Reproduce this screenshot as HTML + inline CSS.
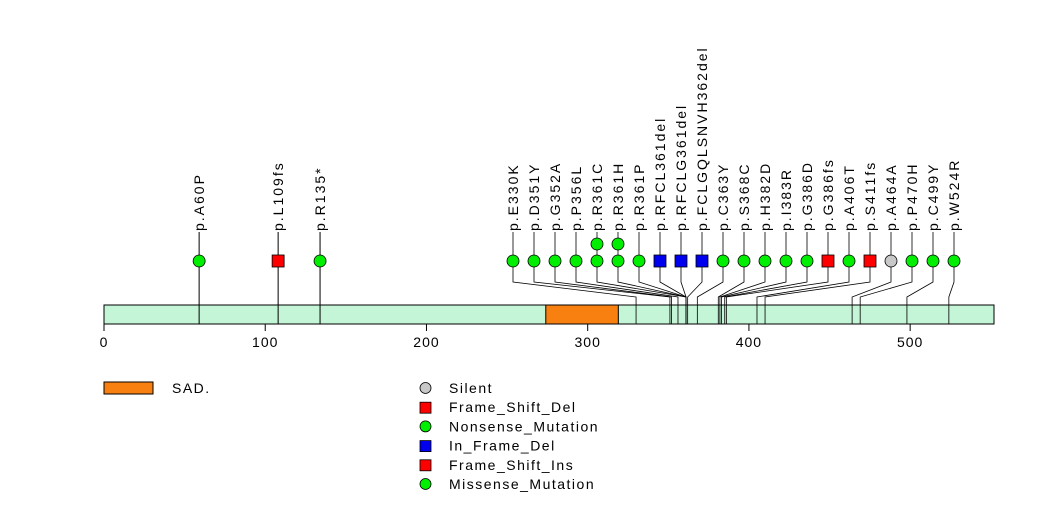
<!DOCTYPE html>
<html><head><meta charset="utf-8"><style>
body{margin:0;background:#fff}
svg text{font-family:"Liberation Sans",sans-serif;font-size:14px;fill:#000}
text.mut{letter-spacing:2px}
text.leg{letter-spacing:1.5px}
text.tick{letter-spacing:1px}
</style></head><body>
<svg id="chart" width="1047" height="524" xmlns="http://www.w3.org/2000/svg">
<rect x="104" y="305" width="890" height="19" fill="#c3f5d6" stroke="#000"/>
<g id="domains"></g>
<g id="axis"></g>
<g id="muts"></g>
<g id="legend"></g>
</svg>
<script>
const proteinLength = 552;
const domainNames = ["SAD."];
const domainStarts = [274];
const domainEnds = [319];
const mutLabels = ["p.A60P","p.L109fs","p.R135*","p.E330K","p.D351Y","p.G352A","p.P356L","p.R361C","p.R361H","p.R361P","p.RFCL361del","p.RFCLG361del","p.FCLGQLSNVH362del","p.C363Y","p.S368C","p.H382D","p.I383R","p.G386D","p.G386fs","p.A406T","p.S411fs","p.A464A","p.P470H","p.C499Y","p.W524R"];
const mutPositions = [59,108,134,330,351,352,356,361,361,361,361,361,362,368,381,382,383,385,386,405,410,464,469,498,524];
const mutCounts = [1,1,1,1,1,1,1,2,2,1,1,1,1,1,1,1,1,1,1,1,1,1,1,1,1];
const mutTypes = ["mis","fsd","mis","mis","mis","mis","mis","mis","mis","mis","ifd","ifd","ifd","mis","mis","mis","mis","mis","fsd","mis","fsd","sil","mis","mis","mis"];
const axisTicks = [0,100,200,300,400,500];
const legendLabels = ["Silent","Frame_Shift_Del","Nonsense_Mutation","In_Frame_Del","Frame_Shift_Ins","Missense_Mutation"];
const legendTypes = ["sil","fsd","mis","ifd","fsd","mis"];

const NS="http://www.w3.org/2000/svg";
const x = v => 104 + v*(890/proteinLength);
const colors = {mis:"#00ee00",fsd:"#ff0000",ifd:"#0000ee",sil:"#c8c8c8"};
function mk(tag, attrs, parent){const e=document.createElementNS(NS,tag);for(const k in attrs)e.setAttribute(k,attrs[k]);parent.appendChild(e);return e;}
function marker(type, cx, cy, parent){
  if(type==="fsd"||type==="ifd") return mk("rect",{x:cx-6,y:cy-6,width:12,height:12,fill:colors[type],stroke:"#000","stroke-width":0.8},parent);
  return mk("circle",{cx:cx,cy:cy,r:6,fill:colors[type],stroke:"#000","stroke-width":0.8},parent);
}
const dg=document.getElementById("domains");
domainNames.forEach((n,i)=>{
  const r=mk("rect",{x:x(domainStarts[i]),y:305,width:x(domainEnds[i])-x(domainStarts[i]),height:19,fill:"#f88010",stroke:"#000"},dg);
  
  
});
const ag=document.getElementById("axis");
mk("line",{x1:x(0),x2:x(proteinLength),y1:324,y2:324,stroke:"#000"},ag);
axisTicks.forEach(t=>{
  mk("line",{x1:x(t),x2:x(t),y1:324,y2:331,stroke:"#000"},ag);
  const tx=mk("text",{x:x(t),y:347,"text-anchor":"middle","class":"tick"},ag);tx.textContent=t;
  
  
});
const mg=document.getElementById("muts");
mutLabels.forEach((lab,i)=>{
  const px=x(mutPositions[i]);
  const lx = i<3 ? px : 513 + (i-3)*21;
  const g=mk("g",{},mg);
  
  
  if(i<3){
    mk("line",{x1:px,x2:px,y1:232,y2:324,stroke:"#000","stroke-width":1},g);
  } else {
    mk("polyline",{points:`${lx},232 ${lx},282 ${px},297 ${px},324`,fill:"none",stroke:"#000","stroke-width":0.8},g);
  }
  for(let c=mutCounts[i]-1;c>=0;c--) marker(mutTypes[i],lx,261-c*17,g);
  const t=mk("text",{transform:`translate(${lx+5},231) rotate(-90)`,"class":"mut"},g);t.textContent=lab;
});
const lg=document.getElementById("legend");
const sad=mk("rect",{x:104,y:382,width:49,height:12,fill:"#f88010",stroke:"#000"},lg);


const st=mk("text",{x:172,y:393,"class":"leg"},lg);st.textContent="SAD.";
legendLabels.forEach((l,i)=>{
  const y=388+i*19.2;
  const g=mk("g",{},lg);
  
  
  if(legendTypes[i]==="fsd"||legendTypes[i]==="ifd") mk("rect",{x:420,y:y-5,width:11,height:11,fill:colors[legendTypes[i]],stroke:"#000","stroke-width":0.8},g);
  else mk("circle",{cx:425.5,cy:y,r:5.5,fill:colors[legendTypes[i]],stroke:"#000","stroke-width":0.8},g);
  const t=mk("text",{x:449,y:y+5,"class":"leg"},g);t.textContent=l;
});
</script>
</body></html>
